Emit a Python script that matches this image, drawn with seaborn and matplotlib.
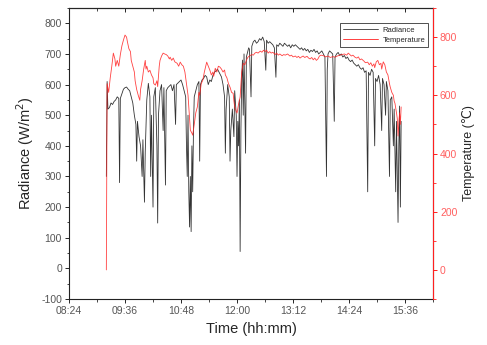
import matplotlib
matplotlib.use("Agg")
import matplotlib.pyplot as plt
from matplotlib.ticker import FuncFormatter, MultipleLocator
from matplotlib.lines import Line2D
import seaborn as sns
import pandas as pd

# time in minutes after midnight
rad_time = [552, 553, 554, 556, 558, 560, 562, 564, 566, 568, 569, 570, 572, 574, 576, 578, 580,
            582, 584, 586, 588, 590, 591, 592, 594, 596, 598, 599, 601, 602, 604, 606, 608, 609,
            610, 612, 613, 615, 617, 618, 619, 621, 623, 625, 626, 628, 629, 631, 633, 635, 637,
            639, 641, 642, 644, 646, 648, 650, 652, 654, 655, 656, 657, 658, 659, 660, 661, 662,
            663, 664, 665, 667, 669, 671, 672, 673, 675, 677, 679, 681, 683, 685, 687, 689, 691,
            693, 695, 697, 699, 700, 702, 704, 705, 706, 708, 710, 711, 712, 714, 716, 717, 719,
            720, 721, 722, 723, 724, 725, 726, 727, 728, 729, 731, 732, 734, 735, 736, 738, 739,
            741, 743, 745, 747, 749, 751, 753, 755, 757, 758, 760, 762, 764, 766, 768, 770, 771,
            773, 775, 777, 779, 781, 783, 785, 787, 789, 791, 793, 795, 797, 799, 801, 803, 805,
            807, 809, 811, 813, 815, 817, 819, 821, 823, 825, 827, 829, 831, 833, 835, 836, 837,
            839, 841, 843, 845, 846, 848, 850, 852, 854, 856, 858, 860, 862, 864, 866, 868, 870,
            872, 874, 876, 878, 880, 882, 884, 886, 888, 889, 891, 893, 895, 897, 898, 900, 902,
            904, 906, 907, 909, 911, 912, 914, 916, 917, 919, 921, 922, 924, 925, 927, 928, 929,
            930, 931]
radiance = [300, 610, 520, 525, 540, 535, 545, 550, 560, 555, 280, 555, 570, 585, 590, 592, 585,
            580, 560, 540, 500, 470, 350, 480, 430, 400, 300, 420, 216, 380, 550, 604, 560, 300,
            500, 200, 560, 590, 400, 148, 500, 580, 600, 450, 590, 272, 580, 590, 595, 600, 580,
            600, 470, 600, 605, 610, 615, 600, 580, 560, 400, 300, 500, 250, 135, 300, 120, 400,
            250, 450, 560, 580, 600, 610, 350, 600, 615, 620, 630, 625, 600, 615, 610, 630, 640,
            645, 650, 640, 630, 625, 600, 560, 376, 520, 600, 560, 350, 450, 520, 430, 580, 500,
            300, 480, 400, 550, 55, 450, 620, 680, 500, 700, 376, 690, 710, 720, 715, 560, 725,
            740, 745, 735, 740, 750, 745, 755, 740, 647, 745, 735, 740, 735, 730, 720, 624, 730,
            725, 735, 730, 725, 735, 730, 725, 730, 720, 730, 725, 730, 725, 720, 715, 720, 712,
            718, 710, 715, 705, 712, 708, 715, 705, 710, 700, 705, 710, 700, 690, 300, 650, 700,
            710, 705, 700, 480, 690, 700, 705, 695, 700, 690, 695, 685, 690, 680, 675, 680, 670,
            665, 660, 665, 655, 650, 655, 640, 645, 250, 640, 630, 650, 640, 400, 620, 610, 630,
            600, 450, 620, 600, 500, 610, 580, 300, 550, 560, 400, 520, 250, 480, 150, 400, 530,
            200, 480]

temp_time = [552, 553, 555, 557, 559, 561, 563, 564, 566, 568, 570, 572, 574, 576, 578, 579, 581,
             583, 584, 586, 588, 589, 591, 593, 595, 596, 598, 600, 602, 603, 604, 606, 608, 610,
             612, 613, 615, 617, 618, 620, 621, 623, 625, 627, 629, 631, 633, 634, 636, 638, 640,
             643, 645, 647, 649, 651, 653, 655, 657, 659, 660, 662, 663, 665, 667, 669, 671, 672,
             674, 676, 678, 681, 683, 685, 687, 689, 690, 692, 694, 696, 698, 700, 702, 704, 705,
             707, 709, 711, 713, 715, 716, 717, 719, 720, 722, 724, 726, 728, 730, 732, 734, 736,
             739, 741, 743, 745, 747, 750, 752, 754, 756, 758, 760, 762, 764, 766, 769, 771, 773,
             775, 778, 780, 782, 785, 788, 790, 792, 795, 797, 799, 801, 803, 805, 807, 810, 812,
             814, 816, 818, 820, 822, 824, 826, 828, 831, 834, 837, 840, 843, 846, 849, 852, 855,
             858, 861, 863, 865, 867, 869, 872, 874, 876, 878, 880, 883, 885, 888, 890, 892, 894,
             896, 897, 899, 901, 903, 905, 906, 908, 910, 912, 914, 916, 917, 919, 921, 922, 923,
             925, 926, 927, 929, 930, 931]
temperature = [0, 640, 610, 660, 700, 745, 725, 700, 720, 700, 740, 770, 790, 807, 800, 785, 760,
               750, 720, 700, 680, 650, 620, 600, 583, 620, 650, 690, 720, 690, 700, 680, 686, 670,
               660, 640, 635, 650, 630, 700, 720, 735, 745, 742, 740, 735, 725, 731, 720, 728, 715,
               710, 700, 714, 705, 700, 680, 640, 600, 520, 480, 470, 463, 500, 540, 560, 610, 600,
               640, 652, 680, 714, 700, 687, 670, 680, 665, 693, 680, 700, 697, 690, 680, 687, 670,
               660, 640, 628, 610, 607, 580, 560, 545, 539, 570, 594, 680, 710, 705, 720, 731, 735,
               740, 738, 745, 748, 745, 752, 748, 755, 750, 755, 745, 750, 745, 748, 740, 745, 738,
               742, 736, 740, 738, 742, 735, 738, 732, 735, 730, 734, 728, 732, 735, 730, 734, 728,
               725, 730, 722, 728, 720, 725, 735, 738, 736, 732, 735, 730, 733, 731, 735, 738, 740,
               742, 738, 745, 740, 735, 738, 730, 728, 732, 722, 725, 718, 712, 714, 705, 712, 700,
               708, 695, 715, 720, 705, 710, 690, 715, 705, 680, 670, 640, 628, 610, 600, 580, 573,
               540, 520, 460, 540, 500, 560]

x_ticks = [504, 576, 648, 720, 792, 864, 936]

rad_df = pd.DataFrame({"time": rad_time, "Radiance": radiance})
temp_df = pd.DataFrame({"time": temp_time, "Temperature": temperature})

sns.set_style("ticks")
plt.rcParams["font.family"] = ["Liberation Sans", "DejaVu Sans"]
plt.rcParams["axes.unicode_minus"] = False

fig = plt.figure(figsize=(4.87, 3.45), dpi=100)
ax = fig.add_axes([0.1417, 0.1333, 0.7475, 0.8435])
ax2 = ax.twinx()

rad_color = "#333333"
temp_color = "#ff2020"

sns.lineplot(data=rad_df, x="time", y="Radiance", ax=ax, color=rad_color, linewidth=0.6)
sns.lineplot(data=temp_df, x="time", y="Temperature", ax=ax2, color=temp_color,
             linewidth=0.6, alpha=0.85)

ax.set_xlim(504, 972)
ax.set_ylim(-100, 850)
ax2.set_ylim(-100, 900)

ax.set_xticks(x_ticks)
ax.xaxis.set_minor_locator(MultipleLocator(36))
ax.xaxis.set_major_formatter(FuncFormatter(lambda v, p: f"{int(v)//60:02d}:{int(v)%60:02d}"))
ax.yaxis.set_major_locator(MultipleLocator(100))
ax.yaxis.set_minor_locator(MultipleLocator(50))
ax2.set_yticks([0, 200, 400, 600, 800])
ax2.yaxis.set_minor_locator(MultipleLocator(100))

ax.tick_params(axis="both", which="major", direction="out", length=3, width=0.7,
               labelsize=7.5, labelcolor="#555555", pad=2)
ax.tick_params(axis="both", which="minor", direction="out", length=1.8, width=0.6)
ax2.tick_params(axis="y", which="major", direction="out", length=3, width=0.7,
                colors=temp_color, labelsize=7.5, labelcolor="#ff6060", pad=2)
ax2.tick_params(axis="y", which="minor", direction="out", length=1.8, width=0.6,
                colors=temp_color)

top = ax.secondary_xaxis("top")
top.set_xticks(x_ticks)
top.xaxis.set_minor_locator(MultipleLocator(36))
top.tick_params(which="major", direction="in", length=3, width=0.7, labeltop=False)
top.tick_params(which="minor", direction="in", length=1.8, width=0.6)
top.spines["top"].set_linewidth(0.8)

for s in ["left", "bottom"]:
    ax.spines[s].set_linewidth(0.8)
    ax.spines[s].set_color("#222222")
ax2.spines["right"].set_color(temp_color)
ax2.spines["right"].set_linewidth(0.8)
ax2.spines["left"].set_visible(False)
ax2.spines["top"].set_visible(False)
ax2.spines["bottom"].set_visible(False)

ax.set_xlabel("Time (hh:mm)", fontsize=10.5, labelpad=4)
ax.set_ylabel("Radiance (W/m$^2$)", fontsize=10.5, labelpad=4)
ax2.set_ylabel("Temperature (\u2103)", fontsize=9, labelpad=3)

# legend sits on top of both lines
handles = [Line2D([], [], color=rad_color, linewidth=0.6),
           Line2D([], [], color=temp_color, linewidth=0.6)]
leg = ax2.legend(handles, ["Radiance", "Temperature"], loc="upper right",
                 bbox_to_anchor=(0.997, 0.96), fontsize=5.5, frameon=True, fancybox=False,
                 framealpha=1, edgecolor="#333333", handlelength=4.5, borderpad=0.4,
                 labelspacing=0.3, handletextpad=0.6)
leg.get_frame().set_linewidth(0.6)

fig.savefig("out.png", dpi=100)
